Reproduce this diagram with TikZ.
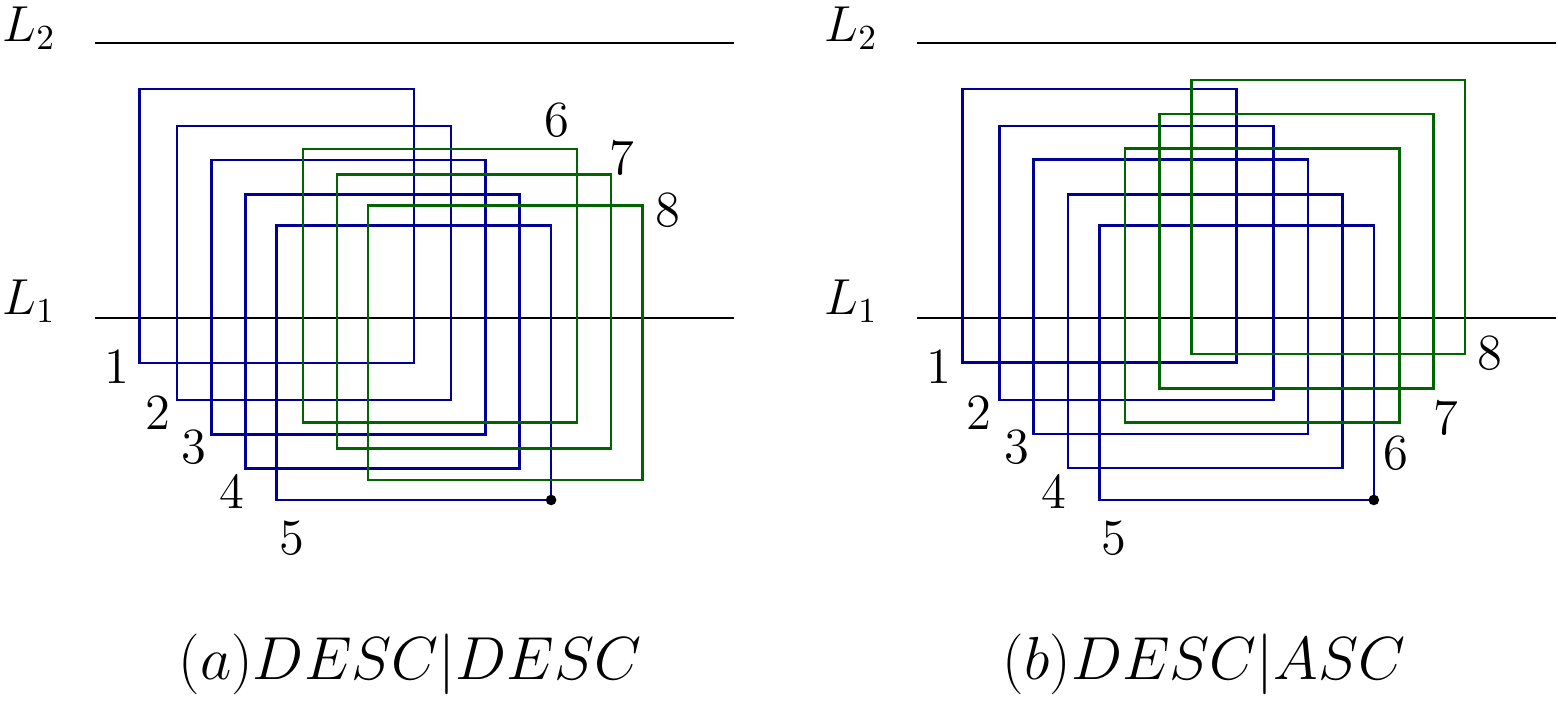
\documentclass[tikz,border=0pt]{standalone}
\definecolor{rblue}{RGB}{0,0,150}
\definecolor{rgreen}{RGB}{0,100,0}
\begin{document}
\begin{tikzpicture}[x=0.01cm,y=-0.01cm,
  bl/.style={draw=rblue,line width=0.7pt},
  gr/.style={draw=rgreen,line width=0.7pt},
  lline/.style={draw=black,line width=0.8pt},
  num/.style={inner sep=0pt,font=\fontsize{14.2}{17}\selectfont},
  lab/.style={inner sep=0pt,anchor=base west,font=\fontsize{14.2}{17}\selectfont},
  captext/.style={inner sep=0pt,anchor=base,font=\fontsize{16.8}{20}\selectfont}]
\useasboundingbox (0,0) rectangle (1558,701);
% ---------- panel (a)
\node[lab] (aL2) at (2,42) {$L_2$};
\node[lab] (aL1) at (2,315) {$L_1$};
\coordinate (aL2s) at (95,43); \coordinate (aL2e) at (734,43);
\coordinate (aL1s) at (95,318); \coordinate (aL1e) at (734,318);
\draw[lline] (aL2s) -- (aL2e);
\draw[lline] (aL1s) -- (aL1e);
\draw[bl] (139.7,89) rectangle (414.1,363);
\draw[bl] (177.2,126) rectangle (450.9,400);
\draw[bl] (211.3,160) rectangle (485.3,434.3);
\draw[bl] (245.4,194.7) rectangle (519.7,468.3);
\draw[bl] (276.7,225.3) rectangle (551.1,500);
\draw[gr] (302.8,149) rectangle (576.8,422.7);
\draw[gr] (336.8,174.7) rectangle (611.2,448.3);
\draw[gr] (367.8,205.7) rectangle (642.6,480);
\fill (551.1,500) circle (5.3);
\node[num] (a1) at (116.8,366.7) {$1$};
\node[num] (a2) at (158.1,413.3) {$2$};
\node[num] (a3) at (194.1,446.7) {$3$};
\node[num] (a4) at (231.6,491.7) {$4$};
\node[num] (a5) at (292,538) {$5$};
\node[num] (a6) at (556.9,120) {$6$};
\node[num] (a7) at (622,158.3) {$7$};
\node[num] (a8) at (667.9,210) {$8$};
\node[captext] (acap) at (410,680) {$(a) DESC|DESC$};
% ---------- panel (b)
\node[lab] (bL2) at (824,42) {$L_2$};
\node[lab] (bL1) at (824,315) {$L_1$};
\coordinate (bL2s) at (917,43); \coordinate (bL2e) at (1556,43);
\coordinate (bL1s) at (917,318); \coordinate (bL1e) at (1556,318);
\draw[lline] (bL2s) -- (bL2e);
\draw[lline] (bL1s) -- (bL1e);
\draw[bl] (962.4,89) rectangle (1236.4,362.7);
\draw[bl] (999.5,126) rectangle (1273.5,400);
\draw[bl] (1033.6,159.7) rectangle (1308,434);
\draw[bl] (1068,194.3) rectangle (1342.4,468);
\draw[bl] (1099.4,225.3) rectangle (1373.8,500);
\draw[gr] (1125,148.3) rectangle (1399.4,422.3);
\draw[gr] (1159.5,114) rectangle (1433.5,388.3);
\draw[gr] (1191.3,80) rectangle (1464.9,354);
\fill (1373.8,500) circle (5.3);
\node[num] (b1) at (938.7,366.7) {$1$};
\node[num] (b2) at (978.9,413.3) {$2$};
\node[num] (b3) at (1016.4,446.7) {$3$};
\node[num] (b4) at (1053.5,491.7) {$4$};
\node[num] (b5) at (1114,538) {$5$};
\node[num] (b6) at (1396,453.3) {$6$};
\node[num] (b7) at (1445.8,418.3) {$7$};
\node[num] (b8) at (1489.8,353.3) {$8$};
\node[captext] (bcap) at (1204,680) {$(b) DESC|ASC$};
\end{tikzpicture}
\end{document}
